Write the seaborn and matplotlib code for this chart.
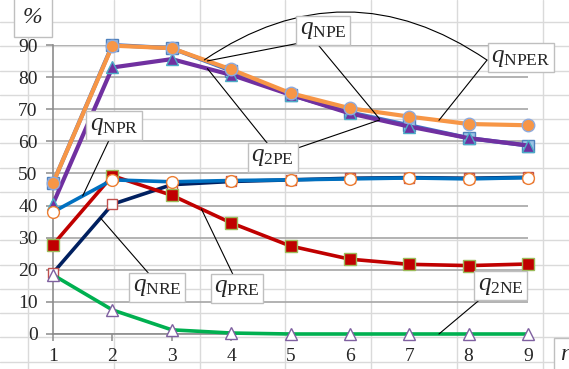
import numpy as np
import pandas as pd
import matplotlib
matplotlib.use("Agg")
import matplotlib.pyplot as plt
import seaborn as sns
from matplotlib.lines import Line2D

# ---- data -------------------------------------------------------------
r = [1, 2, 3, 4, 5, 6, 7, 8, 9]
q_NPE = [47, 90, 89, 82, 74.5, 69, 65, 61, 58.7]
q_2PE = [40.5, 83, 85.6, 80.7, 74.5, 68.7, 64.6, 61, 58.7]
q_NPER = [47, 89.8, 89, 82.4, 75, 70.3, 67.7, 65.4, 65]
q_NRE = [19, 40.4, 46.5, 47.5, 48, 48.5, 48.7, 48.5, 48.8]
q_PRE = [27.8, 49.3, 43.2, 34.6, 27.4, 23.3, 21.7, 21.3, 21.8]
q_NPR = [38, 48, 47.4, 47.8, 48, 48.3, 48.6, 48.3, 48.7]
q_2NE = [18.4, 7.5, 1.3, 0.3, 0, 0, 0, 0, 0]
y_ticks = [0, 10, 20, 30, 40, 50, 60, 70, 80, 90]

sns.set_style("white")
plt.rcParams["font.family"] = "serif"
plt.rcParams["font.serif"] = ["Liberation Serif", "DejaVu Serif"]
plt.rcParams["mathtext.fontset"] = "custom"
plt.rcParams["mathtext.rm"] = "Liberation Serif"
plt.rcParams["mathtext.it"] = "Liberation Serif:italic"

W, H = 569, 369
fig = plt.figure(figsize=(W / 100, H / 100), dpi=100)
fig.patch.set_facecolor("white")

# spreadsheet cell grid behind the chart
for k in range(15):
    yy = 1 - (22 + 24.26 * k) / H
    fig.add_artist(Line2D([0, 1], [yy, yy], transform=fig.transFigure,
                          color="#DADADA", lw=1.0, zorder=0))
for k in range(7):
    xx = (28 + 85.8 * k) / W
    fig.add_artist(Line2D([xx, xx], [0, 1], transform=fig.transFigure,
                          color="#DADADA", lw=1.0, zorder=0))

left, right = 53 / W, 528 / W
bottom, top = 1 - 334 / H, 1 - 45 / H
ax = fig.add_axes([left, bottom, right - left, top - bottom])
ax.patch.set_alpha(0)

series = [
    # values, line colour, marker, face, edge, marker size, line width
    (q_NPE, "#4472C4", "s", "#9DC3E6", "#4F81BD", 8, 3.0),
    (q_2PE, "#7030A0", "^", "#7030A0", "#4BACC6", 8.5, 3.0),
    (q_NPER, "#F79646", "o", "#F79646", "#8FAADC", 9, 3.0),
    (q_NRE, "#002060", "s", "white", "#C0504D", 7.5, 2.6),
    (q_PRE, "#C00000", "s", "#C00000", "#9BBB59", 8, 2.6),
    (q_NPR, "#0070C0", "o", "white", "#ED7D31", 8.5, 2.6),
    (q_2NE, "#00B050", "^", "white", "#7F60A0", 8.5, 2.6),
]
for i, (vals, col, mk, fc, ec, ms, lw) in enumerate(series):
    sns.lineplot(x=r, y=vals, ax=ax, color=col, marker=mk, markersize=ms,
                 markerfacecolor=fc, markeredgecolor=ec, markeredgewidth=1.0,
                 linewidth=lw, clip_on=False, zorder=3 + i)

ax.set_xlim(1, 9)
ax.set_ylim(0, 90)
ax.set_yticks(y_ticks)
ax.set_xticks(r)
ax.set_xticklabels([str(v) for v in r])
ax.set_yticklabels([str(v) for v in y_ticks])
ax.grid(axis="y", color="#A6A6A6", lw=1.2, zorder=1)
ax.grid(axis="x", visible=False)
for s in ["top", "right"]:
    ax.spines[s].set_visible(False)
for s in ["left", "bottom"]:
    ax.spines[s].set_color("#8C8C8C")
    ax.spines[s].set_linewidth(1.2)
ax.tick_params(axis="y", length=5, width=1.1, color="#8C8C8C", pad=6,
               labelsize=14, direction="out", left=True)
ax.tick_params(axis="x", length=5, width=1.1, color="#8C8C8C", pad=5,
               labelsize=14, direction="out", bottom=True)
ax.set_xlabel("")
ax.set_ylabel("")

box = dict(boxstyle="square,pad=0.14", fc="white", ec="#BFBFBF", lw=1.0)


def at(vals, x):
    return (x, float(np.interp(x, r, vals)))


def leader(start, end, rad=0.0):
    ax.annotate("", xy=end, xytext=start, annotation_clip=False,
                arrowprops=dict(arrowstyle="-", color="black", lw=0.8,
                                shrinkA=0, shrinkB=0,
                                connectionstyle=f"arc3,rad={rad}"),
                zorder=12)


def label(txt, x, y, fs=18):
    ax.text(x, y, txt, fontsize=fs, ha="center", va="center", bbox=box,
            zorder=14, clip_on=False)


# leader lines
leader((5.4, 91.5), at(q_NPER, 3.6))
leader((5.4, 91.5), at(q_NPE, 6.5))
leader((8.31, 85.3), at(q_NPER, 3.55), rad=0.34)
leader((8.31, 85.3), at(q_NPER, 7.5))
leader((4.77, 55.7), at(q_2PE, 3.6))
leader((4.77, 55.7), at(q_2PE, 6.5))
leader((1.96, 61.0), at(q_NPR, 1.5))
leader((2.68, 17.4), at(q_NRE, 1.8))
leader((4.06, 17.4), at(q_PRE, 3.5))
leader((8.24, 11.5), at(q_2NE, 7.5))

label(r"$q_{\mathrm{NPE}}$", 5.55, 94.6)
label(r"$q_{\mathrm{NPER}}$", 8.88, 86.0)
label(r"$q_{\mathrm{NPR}}$", 2.03, 64.8)
label(r"$q_{\mathrm{2PE}}$", 4.70, 55.1)
label(r"$q_{\mathrm{NRE}}$", 2.75, 14.6)
label(r"$q_{\mathrm{PRE}}$", 4.10, 14.3)
label(r"$q_{\mathrm{2NE}}$", 8.54, 15.0)
ax.text(0.66, 98.7, "%", fontsize=17, style="italic", ha="center",
        va="center", clip_on=False, zorder=14,
        bbox=dict(boxstyle="square,pad=0.4", fc="white", ec="#BFBFBF", lw=1.0))
ax.text(9.62, -6.3, "r", fontsize=17, style="italic", ha="center",
        va="center", clip_on=False, zorder=14,
        bbox=dict(boxstyle="square,pad=0.25", fc="white", ec="#BFBFBF", lw=1.0))

fig.savefig("out.png", dpi=100)
